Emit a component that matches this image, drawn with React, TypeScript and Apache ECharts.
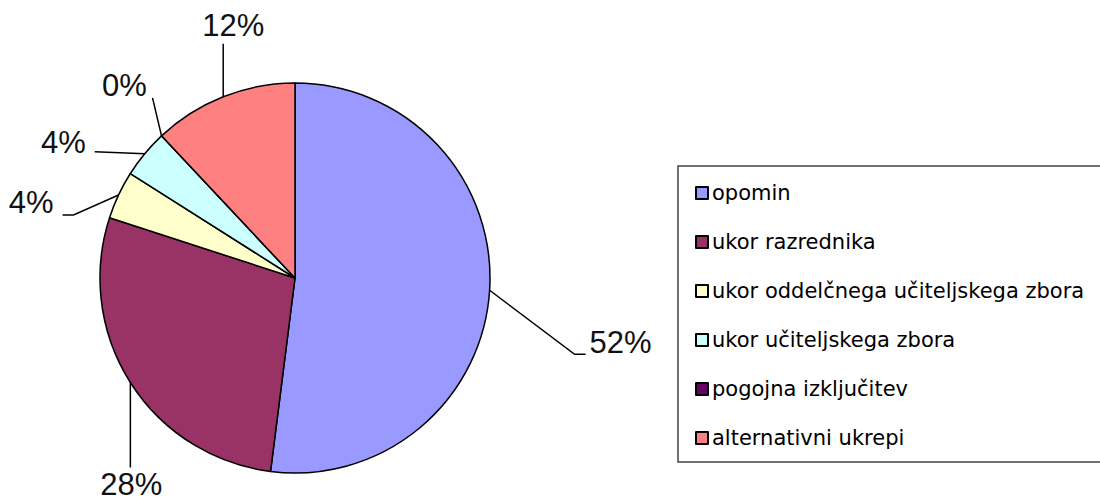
import React, { useEffect, useRef } from "react";
import * as echarts from "echarts";

const categories = [
  "opomin",
  "ukor razrednika",
  "ukor oddelčnega učiteljskega zbora",
  "ukor učiteljskega zbora",
  "pogojna izključitev",
  "alternativni ukrepi",
];
const counts = [13, 7, 1, 1, 0, 3];
const colors = ["#9999FF", "#993366", "#FFFFCC", "#CCFFFF", "#660066", "#FF8080"];

// label leader-line styling offsets (relative to the slice's outer edge point)
// [elbowDx, elbowDy, endDx, endDy, labelDx, labelDy, align]
const labelOffsets: [number, number, number, number, number, number, string][] = [
  [85, 64, 96, 64, 100, 52, "left"],
  [0, 85, 0, 85, 1, 102, "center"],
  [-45, 20, -56, 20, -65, 8, "right"],
  [-50, -2, -50, -2, -59, -11, "right"],
  [-9, -38, -9, -38, -37, -50, "center"],
  [0, -53, 0, -53, 10, -71, "center"],
];

const CX = 295;
const CY = 278;
const R = 195;

export default function App() {
  const ref = useRef<HTMLDivElement>(null);
  useEffect(() => {
    if (!ref.current) return;
    const chart = echarts.init(ref.current, undefined, { renderer: "svg" });
    const total = counts.reduce((a, b) => a + b, 0);
    const edgePoint = (i: number) => {
      let before = 0;
      for (let k = 0; k < i; k++) before += counts[k];
      const mid = ((before + counts[i] / 2) / total) * Math.PI * 2;
      return [CX + R * Math.sin(mid), CY - R * Math.cos(mid)];
    };
    chart.setOption({
      animation: false,
      backgroundColor: "#ffffff",
      color: colors,
      legend: {
        orient: "vertical",
        left: 678,
        top: 166,
        padding: [16, 40, 13, 17],
        itemGap: 27,
        itemWidth: 12,
        itemHeight: 12,
        icon: "rect",
        selectedMode: false,
        borderColor: "#444",
        borderWidth: 1.5,
        backgroundColor: "#fff",
        itemStyle: { borderColor: "#000", borderWidth: 2 },
        textStyle: {
          fontFamily: "DejaVu Sans",
          fontSize: 21,
          lineHeight: 22,
          color: "#000",
          padding: [0, 0, 0, -1],
        },
        data: categories,
      },
      series: [
        {
          type: "pie",
          center: [CX, CY],
          radius: R,
          startAngle: 90,
          clockwise: true,
          avoidLabelOverlap: false,
          emphasis: { disabled: true },
          itemStyle: { borderColor: "#000", borderWidth: 1.5 },
          label: {
            show: true,
            position: "outside",
            fontFamily: "Liberation Sans",
            fontSize: 31,
            color: "#111",
            formatter: (p: any) => `${Math.round(p.percent)}%`,
          },
          labelLine: {
            show: true,
            lineStyle: { color: "#000", width: 1.5 },
          },
          labelLayout: (params: any) => {
            const i = params.dataIndex;
            const o = labelOffsets[i];
            const [ex, ey] = edgePoint(i);
            return {
              x: ex + o[4],
              y: ey + o[5],
              align: o[6],
              verticalAlign: "middle",
              labelLinePoints: [
                [ex, ey],
                [ex + o[0], ey + o[1]],
                [ex + o[2], ey + o[3]],
              ],
            };
          },
          data: categories.map((name, i) => ({ name, value: counts[i] })),
        },
      ],
    });
    return () => chart.dispose();
  }, []);
  return (
    <div
      ref={ref}
      style={{ position: "fixed", left: 0, top: 0, width: 1100, height: 502 }}
    />
  );
}
